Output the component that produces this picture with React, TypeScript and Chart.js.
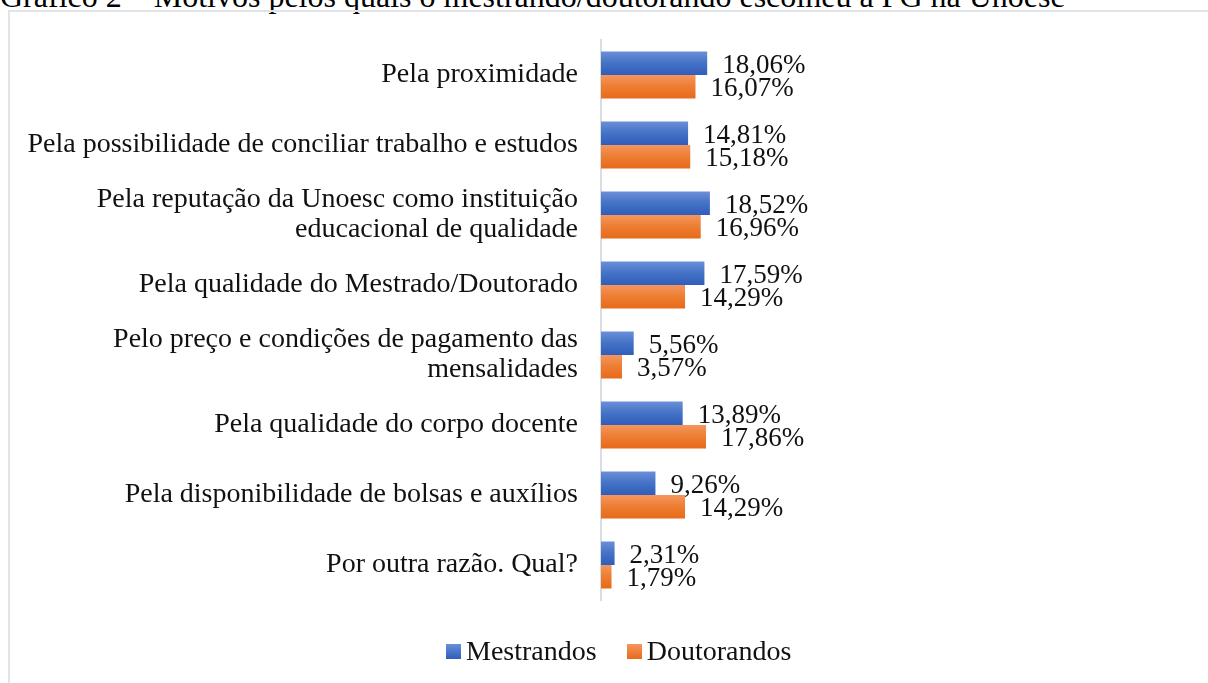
import React, { useEffect, useRef } from "react";
import { Chart, registerables } from "chart.js";

Chart.register(...registerables);

const titleText = "Gráfico 2 – Motivos pelos quais o mestrando/doutorando escolheu a PG na Unoesc";

const categories: (string | string[])[] = [
  "Pela proximidade",
  "Pela possibilidade de conciliar trabalho e estudos",
  ["Pela reputação da Unoesc como instituição", "educacional de qualidade"],
  "Pela qualidade do Mestrado/Doutorado",
  ["Pelo preço e condições de pagamento das", "mensalidades"],
  "Pela qualidade do corpo docente",
  "Pela disponibilidade de bolsas e auxílios",
  "Por outra razão. Qual?",
];

const seriesNames = ["Mestrandos", "Doutorandos"];
const mestrandos = [18.06, 14.81, 18.52, 17.59, 5.56, 13.89, 9.26, 2.31];
const doutorandos = [16.07, 15.18, 16.96, 14.29, 3.57, 17.86, 14.29, 1.79];

const FONT = "'Liberation Serif', 'Times New Roman', serif";
const gradStops = [
  ["#6a8fd9", "#4472c4", "#2f5dbb"],
  ["#f5965e", "#ed7d31", "#e76a1a"],
];
const CAT_PCT = 0.67;

const fmt = (v: number) => v.toFixed(2).replace(".", ",") + "%";

const dataLabels = {
  id: "dataLabels",
  afterDatasetsDraw(chart: any) {
    const ctx = chart.ctx;
    ctx.save();
    ctx.font = `27px ${FONT}`;
    ctx.fillStyle = "#111111";
    ctx.textAlign = "left";
    ctx.textBaseline = "middle";
    chart.data.datasets.forEach((ds: any, di: number) => {
      const meta = chart.getDatasetMeta(di);
      meta.data.forEach((el: any, i: number) => {
        ctx.fillText(fmt(ds.data[i]), el.x + 15, el.y + 2.5);
      });
    });
    ctx.restore();
  },
};

function makeBg(di: number) {
  return (c: any) => {
    const chart = c.chart;
    const area = chart.chartArea;
    const yS = chart.scales && chart.scales.y;
    if (!area || !yS || c.type !== "data") return gradStops[di][1];
    const center = yS.getPixelForValue(c.dataIndex);
    const full = (yS.height / categories.length) * CAT_PCT;
    const top = di === 0 ? center - full / 2 : center;
    const g = chart.ctx.createLinearGradient(0, top, 0, top + full / 2);
    g.addColorStop(0, gradStops[di][0]);
    g.addColorStop(0.5, gradStops[di][1]);
    g.addColorStop(1, gradStops[di][2]);
    return g;
  };
}

export default function App() {
  const ref = useRef<HTMLCanvasElement | null>(null);

  useEffect(() => {
    if (!ref.current) return;
    const chart = new Chart(ref.current, {
      type: "bar",
      data: {
        labels: categories as any,
        datasets: [
          { label: seriesNames[0], data: mestrandos, backgroundColor: makeBg(0) as any, borderWidth: 0 },
          { label: seriesNames[1], data: doutorandos, backgroundColor: makeBg(1) as any, borderWidth: 0 },
        ],
      },
      options: {
        indexAxis: "y",
        responsive: false,
        animation: false,
        datasets: { bar: { categoryPercentage: CAT_PCT, barPercentage: 1 } },
        layout: { padding: { left: 0, top: 40, bottom: 83, right: 489.4 } },
        plugins: { legend: { display: false }, tooltip: { enabled: false }, title: { display: false } },
        scales: {
          x: { display: false, min: 0, max: 20 },
          y: {
            position: "left",
            grid: { display: false },
            border: { display: true, color: "#d9dde4", width: 2 },
            ticks: {
              padding: 15,
              color: "#111111",
              font: { family: FONT, size: 28, lineHeight: 1.07 },
              autoSkip: false,
            },
            afterFit: (s: any) => {
              s.width = 601;
            },
          },
        },
      },
      plugins: [dataLabels],
    });
    return () => chart.destroy();
  }, []);

  const legendColors = [
    `linear-gradient(${gradStops[0][0]}, ${gradStops[0][2]})`,
    `linear-gradient(${gradStops[1][0]}, ${gradStops[1][2]})`,
  ];

  return (
    <div style={{ position: "fixed", left: 0, top: 0, width: 1208, height: 683, overflow: "hidden", background: "#fff" }}>
      <div
        style={{
          position: "absolute",
          left: 0,
          top: -19.8,
          fontFamily: FONT,
          fontSize: 32,
          lineHeight: "32px",
          color: "#000",
          whiteSpace: "nowrap",
        }}
      >
        {titleText}
      </div>
      <div
        style={{
          position: "absolute",
          left: 8,
          top: 10,
          width: 1400,
          height: 900,
          border: "2px solid #dfe3ea",
          boxSizing: "border-box",
        }}
      />
      <canvas ref={ref} width={1208} height={683} style={{ position: "absolute", left: 0, top: 0 }} />
      <div
        style={{
          position: "absolute",
          left: 446,
          top: 636,
          display: "flex",
          alignItems: "center",
          fontFamily: FONT,
          fontSize: 28,
          lineHeight: "30px",
          color: "#111",
          whiteSpace: "nowrap",
        }}
      >
        {seriesNames.map((n, i) => (
          <div key={n} style={{ display: "flex", alignItems: "center", marginRight: i === 0 ? 30 : 0 }}>
            <span style={{ display: "inline-block", width: 15, height: 15, background: legendColors[i], marginRight: 5 }} />
            <span>{n}</span>
          </div>
        ))}
      </div>
    </div>
  );
}
